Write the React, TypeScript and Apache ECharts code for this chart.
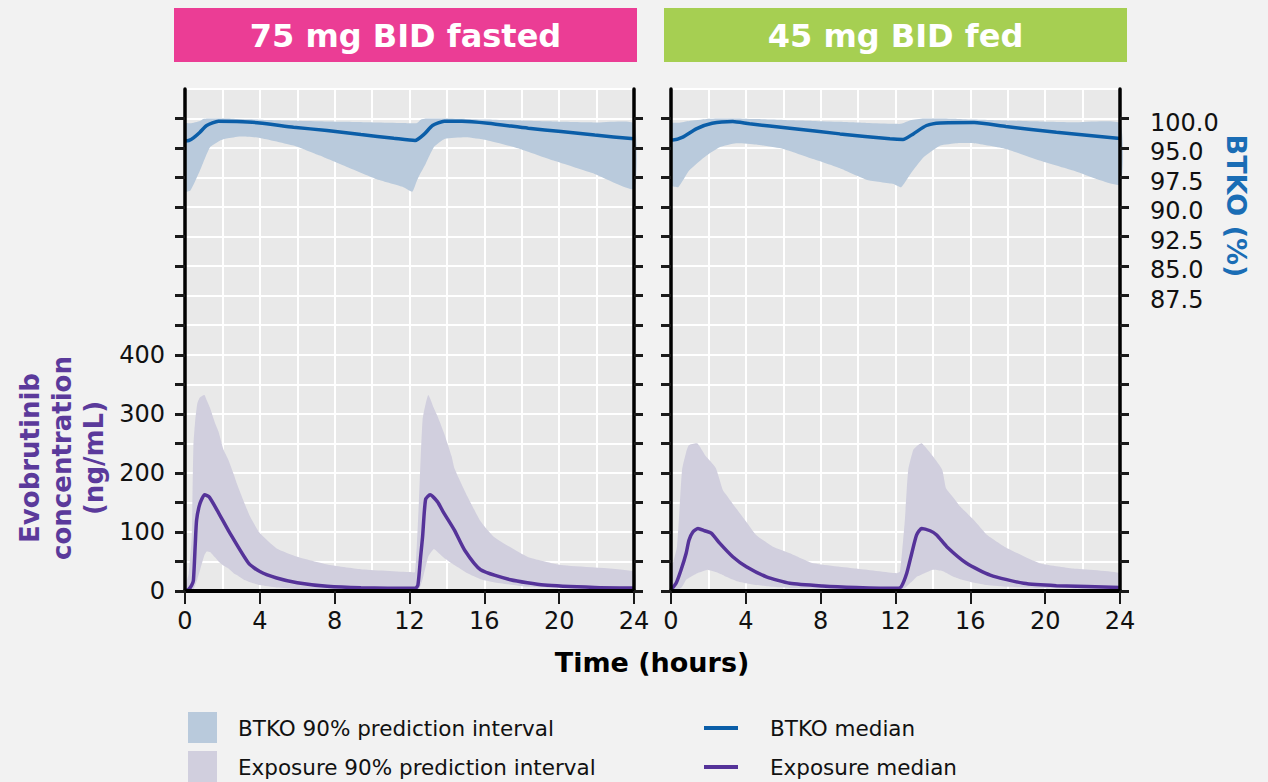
import React, { useEffect, useRef } from 'react';
import * as echarts from 'echarts';

const FONT = 'DejaVu Sans';

// ---------- Panel titles ----------
const PANEL_TITLES = ['75 mg BID fasted', '45 mg BID fed'];

// ---------- Axis ticks ----------
const X_MIN = 0;
const X_MAX = 24;
const CONC_TICK_VALUES = [0, 50, 100, 150, 200, 250, 300, 350, 400, 450, 500, 550, 600, 650, 700, 750, 800];
const CONC_LABEL_VALUES = [0, 100, 200, 300, 400];
const BTKO_TICK_VALUES_ALL = [60, 62.5, 65, 67.5, 70, 72.5, 75, 77.5, 80, 82.5, 85, 87.5, 90, 92.5, 95, 97.5, 100];
const BTKO_LABEL_VALUES = [100, 97.5, 95, 92.5, 90, 87.5, 85];
const BTKO_LABEL_TEXTS = ['100.0', '95.0', '97.5', '90.0', '92.5', '85.0', '87.5'];

// ---------- 75 mg BID fasted: exposure (ng/mL) ----------
const FAST_CONC_MED_T = [0, 0.2, 0.36, 0.45, 0.55, 0.62, 0.8, 1.05, 1.3, 1.8, 2.4, 3.4, 4.0, 4.9, 6.0, 7.6, 9.4, 12.3, 12.45, 12.6, 12.7, 12.86, 13.1, 13.5, 13.8, 14.4, 14.95, 15.8, 17.4, 19.2, 21.9, 24];
const FAST_CONC_MED = [0, 3, 10, 18, 80, 120, 148, 163, 159, 132, 98, 47, 33, 22, 14, 8, 5.5, 4.5, 10, 60, 92, 155, 163, 151, 134, 103, 69, 36, 19, 10, 6, 5];
const FAST_CONC_BAND_T = [0, 0.2, 0.36, 0.45, 0.55, 0.66, 0.8, 1.04, 1.16, 1.34, 1.6, 1.79, 2.05, 2.32, 2.6, 2.77, 3.1, 3.48, 4.0, 4.9, 6.0, 7.6, 9.4, 12.05, 12.3, 12.5, 12.7, 13.0, 13.3, 13.5, 13.85, 14.25, 14.4, 15.1, 15.8, 16.5, 18.3, 20.1, 24];
const FAST_CONC_LO = [0, 0, 0, 2, 10, 20, 35, 61, 67, 66, 57, 50, 43, 38, 30, 27, 20, 15, 10, 6, 3.5, 2, 1.5, 1, 1, 2, 20, 58, 71, 66, 56, 47, 44, 30, 20, 15, 7, 5, 3];
const FAST_CONC_HI = [5, 30, 92, 245, 290, 318, 328, 332, 323, 310, 285, 270, 240, 222, 198, 182, 155, 126, 98, 72, 58, 45, 37, 32, 32, 149, 290, 332, 310, 296, 267, 228, 208, 160, 118, 92, 58, 44, 33];

// ---------- 75 mg BID fasted: BTKO (%) ----------
const FAST_BTKO_MED_T = [0, 0.2, 0.45, 0.8, 1.16, 1.79, 2.77, 4.0, 5.8, 7.59, 9.4, 11.16, 12.3, 12.8, 13.23, 13.86, 14.8, 16.2, 18.35, 20.1, 21.9, 24];
const FAST_BTKO_MED = [98.1, 98.14, 98.36, 98.84, 99.41, 99.78, 99.75, 99.63, 99.27, 98.98, 98.64, 98.33, 98.14, 98.7, 99.41, 99.77, 99.77, 99.6, 99.18, 98.9, 98.6, 98.28];
const FAST_BTKO_BAND_T = [0, 0.29, 0.8, 0.98, 1.34, 1.88, 2.23, 2.95, 4.0, 5.8, 7.2, 8.6, 10.2, 11.6, 12.15, 12.4, 12.6, 12.86, 13.3, 13.9, 15.0, 16.1, 17.9, 19.7, 21.9, 24];
const FAST_BTKO_LO = [93.81, 93.9, 95.6, 96.3, 97.57, 98.14, 98.3, 98.47, 98.36, 97.71, 96.86, 95.93, 94.89, 94.24, 93.81, 94.75, 95.4, 96.16, 97.57, 98.28, 98.42, 98.19, 97.43, 96.44, 95.31, 94.04];
const FAST_BTKO_HI = [99.6, 99.6, 99.8, 99.97, 100, 100, 100, 99.95, 99.9, 99.82, 99.78, 99.72, 99.66, 99.62, 99.6, 99.62, 99.9, 100, 100, 100, 99.97, 99.92, 99.83, 99.75, 99.67, 99.6];

// ---------- 45 mg BID fed: exposure (ng/mL) ----------
const FED_CONC_MED_T = [0, 0.27, 0.54, 0.81, 0.96, 1.17, 1.44, 1.8, 2.15, 2.6, 3.3, 4.03, 5.1, 6.35, 8.1, 9.9, 12.06, 12.3, 12.6, 12.87, 13.13, 13.4, 13.85, 14.2, 14.74, 15.8, 17.06, 18.85, 20.6, 24];
const FED_CONC_MED = [2, 13, 36, 64, 86, 100, 106, 102, 98, 81, 58, 41, 24, 13, 8.5, 6, 4.5, 7, 30, 64, 95, 106, 102, 95, 75, 47, 27, 13, 9, 6];
const FED_CONC_BAND_T = [0, 0.32, 0.59, 0.81, 0.96, 1.4, 1.86, 1.95, 2.4, 2.77, 2.95, 3.48, 4.03, 4.55, 5.45, 6.35, 7.6, 9.9, 12.06, 12.24, 12.5, 12.68, 12.95, 13.13, 13.4, 14.0, 14.5, 14.7, 15.1, 15.46, 16.2, 16.9, 18.0, 19.7, 21.5, 24];
const FED_CONC_LO = [0, 0, 7, 19, 22, 30, 35, 36, 32, 27, 24, 17, 13, 10, 7, 5, 4, 3, 2, 2, 5, 10, 18, 24, 28, 36, 34, 31, 24, 20, 14, 10, 7, 5, 4, 4];
const FED_CONC_HI = [33, 75, 205, 235, 247, 250, 228, 225, 208, 171, 163, 140, 117, 95, 75, 64, 47, 38, 30, 33, 120, 205, 239, 245, 250, 228, 205, 174, 158, 143, 120, 95, 72, 47, 38, 30];

// ---------- 45 mg BID fed: BTKO (%) ----------
const FED_BTKO_MED_T = [0, 0.1, 0.63, 1.35, 2.2, 3.3, 4.2, 6.35, 9.03, 11.7, 12.4, 12.95, 13.66, 14.4, 16.2, 17.9, 20.6, 24];
const FED_BTKO_MED = [98.19, 98.19, 98.42, 99.13, 99.6, 99.75, 99.55, 99.18, 98.7, 98.28, 98.22, 98.7, 99.41, 99.63, 99.66, 99.32, 98.84, 98.3];
const FED_BTKO_BAND_T = [0, 0.4, 0.97, 1.9, 2.6, 3.48, 4.55, 6.0, 7.6, 9.0, 10.5, 11.9, 12.3, 12.8, 13.5, 14.4, 15.3, 16.2, 17.9, 19.7, 21.5, 24];
const FED_BTKO_LO = [94.32, 94.2, 95.59, 96.86, 97.57, 97.91, 97.8, 97.43, 96.58, 95.82, 94.8, 94.46, 94.18, 95.31, 96.72, 97.71, 97.91, 97.91, 97.43, 96.44, 95.59, 94.41];
const FED_BTKO_HI = [99.6, 99.65, 99.8, 99.97, 100, 100, 99.95, 99.88, 99.8, 99.72, 99.62, 99.55, 99.55, 99.85, 100, 100, 99.97, 99.92, 99.83, 99.75, 99.68, 99.6];

// ---------- Legend ----------
const LEGEND_BANDS = ['BTKO 90% prediction interval', 'Exposure 90% prediction interval'];
const LEGEND_LINES = ['BTKO median', 'Exposure median'];

// ---------- Colours ----------
const C_BG = '#f2f2f2';
const C_PLOT = '#e9e9e9';
const C_BTKO_BAND = '#b9cadc';
const C_BTKO_LINE = '#0b5ea8';
const C_EXPO_BAND = '#d1cfde';
const C_EXPO_LINE = '#553399';
const C_PINK = '#eb3d95';
const C_GREEN = '#a6cf52';
const C_TITLE_PURPLE = '#5b3a9b';
const C_TITLE_BLUE = '#1a6db5';

const GRIDS = [
  { left: 185, top: 89, width: 449, height: 502 },
  { left: 671, top: 89, width: 449, height: 502 },
];

function zip(t: number[], v: number[]) {
  return t.map((x, i) => [x, v[i]]);
}

function bandSeries(T: number[], LO: number[], HI: number[], xIdx: number, yIdx: number, color: string) {
  return {
    type: 'custom',
    coordinateSystem: 'cartesian2d',
    xAxisIndex: xIdx,
    yAxisIndex: yIdx,
    silent: true,
    data: T.map((t, i) => [t, LO[i], HI[i]]),
    encode: { x: 0, y: [1, 2] },
    renderItem: (params: any, api: any) => {
      if (params.dataIndex !== 0) return null;
      const pts: number[][] = [];
      for (let i = 0; i < T.length; i++) pts.push(api.coord([T[i], HI[i]]));
      for (let i = T.length - 1; i >= 0; i--) pts.push(api.coord([T[i], LO[i]]));
      return { type: 'polygon', shape: { points: pts, smooth: 0.15 }, style: { fill: color } };
    },
  };
}

function lineSeries(T: number[], V: number[], xIdx: number, yIdx: number, color: string) {
  return {
    type: 'line',
    xAxisIndex: xIdx,
    yAxisIndex: yIdx,
    data: zip(T, V),
    showSymbol: false,
    symbol: 'none',
    silent: true,
    smooth: 0.2,
    lineStyle: { color, width: 3.5 },
    z: 4,
  };
}

const labelStyle = { fontSize: 24, color: '#111', fontFamily: FONT };

function xGridAxis(gi: number) {
  return {
    type: 'value', gridIndex: gi, position: 'bottom', min: X_MIN, max: X_MAX, interval: 4,
    axisLine: { show: false }, axisTick: { show: false }, axisLabel: { show: false },
    splitLine: { show: true, lineStyle: { color: '#ffffff', width: 2 } },
    minorTick: { show: false, splitNumber: 2 },
    minorSplitLine: { show: true, lineStyle: { color: '#ffffff', width: 2 } },
  };
}
function xDecoAxis(gi: number) {
  return {
    type: 'value', gridIndex: gi, position: 'bottom', offset: 0, min: X_MIN, max: X_MAX, interval: 4, z: 10,
    axisLine: { show: true, onZero: false, lineStyle: { color: '#000', width: 4 } },
    axisTick: { show: true, length: 13, lineStyle: { color: '#1a1a1a', width: 2 } },
    axisLabel: { show: true, margin: 18, ...labelStyle },
    splitLine: { show: false },
  };
}
function yConcGridAxis(gi: number) {
  return {
    type: 'value', gridIndex: gi, position: 'left', min: 0, max: 850, interval: 50,
    axisLine: { show: false }, axisTick: { show: false }, axisLabel: { show: false },
    splitLine: { show: true, lineStyle: { color: '#ffffff', width: 2 } },
  };
}
function yConcDecoAxis(gi: number, showLabels: boolean) {
  return {
    type: 'value', gridIndex: gi, position: 'left', offset: 0, min: 0, max: 850, interval: 50, z: 10,
    axisLine: { show: true, onZero: false, lineStyle: { color: '#000', width: 3.5 } },
    axisTick: { show: true, length: 10, customValues: CONC_TICK_VALUES, lineStyle: { color: '#1a1a1a', width: 3 } },
    axisLabel: { show: showLabels, customValues: CONC_LABEL_VALUES, margin: 20, ...labelStyle },
    splitLine: { show: false },
  };
}
function yBtkoAxis(gi: number, showLabels: boolean) {
  return {
    type: 'value', gridIndex: gi, position: 'right', offset: 0, min: 60, max: 102.5, interval: 2.5, z: 10,
    axisLine: { show: true, onZero: false, lineStyle: { color: '#000', width: 3.5 } },
    axisTick: { show: true, length: 9, customValues: BTKO_TICK_VALUES_ALL, lineStyle: { color: '#1a1a1a', width: 3 } },
    axisLabel: {
      show: showLabels,
      customValues: BTKO_LABEL_VALUES,
      margin: 30,
      ...labelStyle,
      formatter: (v: number) => {
        const i = BTKO_LABEL_VALUES.findIndex((x) => Math.abs(x - v) < 1e-6);
        return i >= 0 ? '{a|' + BTKO_LABEL_TEXTS[i] + '}' : '';
      },
      rich: { a: { fontSize: 24, color: '#111', fontFamily: FONT, padding: [8, 0, 0, 0] } },
    },
    splitLine: { show: false },
  };
}

export default function App() {
  const ref = useRef<HTMLDivElement>(null);

  useEffect(() => {
    if (!ref.current) return;
    const chart = echarts.init(ref.current, undefined, { renderer: 'svg' });

    const headerColors = [C_PINK, C_GREEN];
    const headerX = [174, 664];
    const graphic: any[] = [];
    PANEL_TITLES.forEach((title, i) => {
      graphic.push({
        type: 'rect', shape: { x: headerX[i], y: 8, width: 463, height: 54 },
        style: { fill: headerColors[i] }, silent: true,
      });
      graphic.push({
        type: 'text', x: headerX[i] + 231.5, y: 36, silent: true,
        style: { text: title, fill: '#ffffff', font: `bold 32px "${FONT}"`, align: 'center', verticalAlign: 'middle' },
      });
    });
    graphic.push({
      type: 'text', x: 62, y: 458, rotation: Math.PI / 2, silent: true,
      style: {
        text: 'Evobrutinib\nconcentration\n(ng/mL)', fill: C_TITLE_PURPLE,
        font: `bold 26px "${FONT}"`, lineHeight: 32, align: 'center', verticalAlign: 'middle',
      },
    });
    graphic.push({
      type: 'text', x: 1236, y: 206, rotation: -Math.PI / 2, silent: true,
      style: { text: 'BTKO (%)', fill: C_TITLE_BLUE, font: `bold 27px "${FONT}"`, align: 'center', verticalAlign: 'middle' },
    });
    graphic.push({
      type: 'text', x: 652, y: 662, silent: true,
      style: { text: 'Time (hours)', fill: '#000', font: `bold 27px "${FONT}"`, align: 'center', verticalAlign: 'middle' },
    });
    // legend
    const bandColors = [C_BTKO_BAND, C_EXPO_BAND];
    const lineColors = [C_BTKO_LINE, C_EXPO_LINE];
    const rowY = [728, 767];
    LEGEND_BANDS.forEach((txt, i) => {
      graphic.push({ type: 'rect', shape: { x: 188, y: rowY[i] - 16, width: 29, height: 31 }, style: { fill: bandColors[i] }, silent: true });
      graphic.push({
        type: 'text', x: 238, y: rowY[i], silent: true,
        style: { text: txt, fill: '#111', font: `21.5px "${FONT}"`, align: 'left', verticalAlign: 'middle' },
      });
    });
    LEGEND_LINES.forEach((txt, i) => {
      graphic.push({
        type: 'line', shape: { x1: 704, y1: rowY[i], x2: 738, y2: rowY[i] },
        style: { stroke: lineColors[i], lineWidth: 4 }, silent: true,
      });
      graphic.push({
        type: 'text', x: 770, y: rowY[i], silent: true,
        style: { text: txt, fill: '#111', font: `21.5px "${FONT}"`, align: 'left', verticalAlign: 'middle' },
      });
    });

    const option: any = {
      animation: false,
      backgroundColor: C_BG,
      textStyle: { fontFamily: FONT },
      grid: GRIDS.map((g) => ({ ...g, show: true, backgroundColor: C_PLOT, borderWidth: 0, containLabel: false })),
      xAxis: [xGridAxis(0), xDecoAxis(0), xGridAxis(1), xDecoAxis(1)],
      yAxis: [
        yConcGridAxis(0), yConcDecoAxis(0, true), yBtkoAxis(0, false),
        yConcGridAxis(1), yConcDecoAxis(1, false), yBtkoAxis(1, true),
      ],
      series: [
        bandSeries(FAST_CONC_BAND_T, FAST_CONC_LO, FAST_CONC_HI, 0, 0, C_EXPO_BAND),
        bandSeries(FAST_BTKO_BAND_T, FAST_BTKO_LO, FAST_BTKO_HI, 0, 2, C_BTKO_BAND),
        lineSeries(FAST_CONC_MED_T, FAST_CONC_MED, 0, 0, C_EXPO_LINE),
        lineSeries(FAST_BTKO_MED_T, FAST_BTKO_MED, 0, 2, C_BTKO_LINE),
        bandSeries(FED_CONC_BAND_T, FED_CONC_LO, FED_CONC_HI, 2, 3, C_EXPO_BAND),
        bandSeries(FED_BTKO_BAND_T, FED_BTKO_LO, FED_BTKO_HI, 2, 5, C_BTKO_BAND),
        lineSeries(FED_CONC_MED_T, FED_CONC_MED, 2, 3, C_EXPO_LINE),
        lineSeries(FED_BTKO_MED_T, FED_BTKO_MED, 2, 5, C_BTKO_LINE),
      ],
      graphic,
    };
    chart.setOption(option);
    return () => chart.dispose();
  }, []);

  return (
    <div
      ref={ref}
      style={{ position: 'fixed', left: 0, top: 0, width: 1268, height: 782, background: C_BG }}
    />
  );
}
